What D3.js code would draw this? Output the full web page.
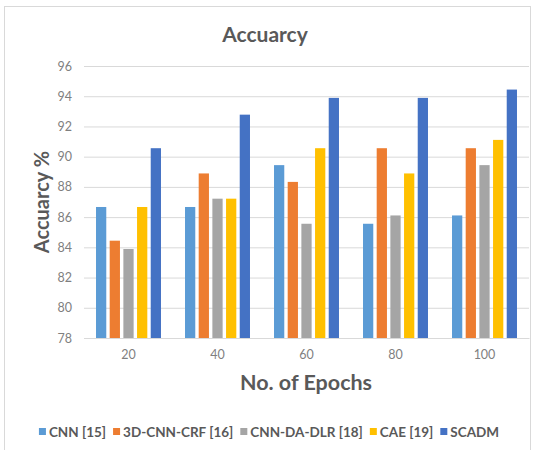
<!DOCTYPE html>
<html>
<head>
<meta charset="utf-8">
<script src="https://cdn.jsdelivr.net/npm/d3@7/dist/d3.min.js"></script>
<style>
  html, body { margin: 0; padding: 0; background: #ffffff; }
  svg { display: block; font-family: Lato, "Open Sans", sans-serif; }
</style>
</head>
<body>
<svg id="chart" width="540" height="450"></svg>
<script>
// Epoch groups on the x axis
const epochs = ["20", "40", "60", "80", "100"];

// Methods compared
const methods = ["CNN [15]", "3D-CNN-CRF [16]", "CNN-DA-DLR [18]", "CAE [19]", "SCADM"];

// Accuracy (%) per method, one value per epoch group
const cnn      = [86.67, 86.67, 89.44, 85.56, 86.11];
const cnn3dCrf = [84.44, 88.89, 88.33, 90.56, 90.56];
const cnnDaDlr = [83.89, 87.22, 85.56, 86.11, 89.44];
const cae      = [86.67, 87.22, 90.56, 88.89, 91.11];
const scadm    = [90.56, 92.78, 93.89, 93.89, 94.44];

// Y axis ticks
const yTicks = [78, 80, 82, 84, 86, 88, 90, 92, 94, 96];

const colors = ["#5B9BD5", "#ED7D31", "#A5A5A5", "#FFC000", "#4472C4"];

const seriesValues = [cnn, cnn3dCrf, cnnDaDlr, cae, scadm];
const rows = epochs.map((e, i) => ({
  epoch: e,
  values: methods.map((m, j) => ({ method: m, value: seriesValues[j][i], color: colors[j] }))
}));

const svg = d3.select("#chart");
const textColor = "#595959";
const tickColor = "#7f7f7f";
const gridColor = "#d9d9d9";

// Outer frame
svg.append("rect")
  .attr("x", 4.5).attr("y", 6.5)
  .attr("width", 526).attr("height", 460)
  .attr("fill", "none").attr("stroke", "#d9d9d9").attr("stroke-width", 1);

const plot = { left: 84, right: 529, top: 66, bottom: 338 };

const x0 = d3.scaleBand().domain(epochs)
  .range([plot.left, plot.right]).paddingInner(0.27).paddingOuter(0.135);
const x1 = d3.scaleBand().domain(methods)
  .range([0, x0.bandwidth()]).paddingInner(0.25);
const y = d3.scaleLinear().domain([78, 96]).range([plot.bottom, plot.top]);

// Gridlines and y tick labels
const yAxis = d3.axisLeft(y).tickValues(yTicks)
  .tickSize(-(plot.right - plot.left)).tickPadding(12).tickFormat(d3.format("d"));
const gy = svg.append("g").attr("transform", `translate(${plot.left},0)`).call(yAxis);
gy.select(".domain").remove();
gy.selectAll(".tick line").attr("stroke", gridColor).attr("stroke-width", 1);
gy.selectAll(".tick text").attr("fill", tickColor).attr("font-size", 12.5)
  .attr("font-family", "Lato, 'Open Sans', sans-serif");

// Bars
const groups = svg.append("g").selectAll("g").data(rows).join("g")
  .attr("transform", d => `translate(${x0(d.epoch)},0)`);
groups.selectAll("rect").data(d => d.values).join("rect")
  .attr("x", d => x1(d.method))
  .attr("y", d => y(d.value))
  .attr("width", x1.bandwidth())
  .attr("height", d => y(78) - y(d.value))
  .attr("fill", d => d.color);

// X axis labels
const xAxis = d3.axisBottom(x0).tickSize(0).tickPadding(12);
const gx = svg.append("g").attr("transform", `translate(0,${plot.bottom})`).call(xAxis);
gx.select(".domain").attr("stroke", gridColor);
gx.selectAll(".tick text").attr("fill", tickColor).attr("font-size", 12.5)
  .attr("font-family", "Lato, 'Open Sans', sans-serif");

// Title
svg.append("text").attr("x", 265).attr("y", 42)
  .attr("text-anchor", "middle").attr("font-size", 21).attr("font-weight", "bold")
  .attr("fill", textColor).text("Accuarcy");

// Axis titles
svg.append("text").attr("x", 306).attr("y", 390)
  .attr("text-anchor", "middle").attr("font-size", 21.5).attr("font-weight", "bold")
  .attr("fill", textColor).text("No. of Epochs");

svg.append("text")
  .attr("transform", "translate(49,202) rotate(-90)")
  .attr("text-anchor", "middle").attr("font-size", 20).attr("font-weight", "bold")
  .attr("fill", textColor).text("Accuarcy %");

// Legend
const legend = svg.append("g").attr("transform", "translate(0,432)");
const items = legend.selectAll("g").data(methods).join("g");
items.append("rect").attr("width", 7).attr("height", 7).attr("y", -4)
  .attr("fill", (d, i) => colors[i]);
items.append("text").attr("x", 10).attr("y", 0).attr("dy", "0.35em")
  .attr("font-size", 13.5).attr("font-weight", "bold").attr("fill", textColor)
  .text(d => d);
const widths = [];
items.each(function () {
  widths.push(this.getBBox().width);
});
const gap = 7;
const total = d3.sum(widths) + gap * (widths.length - 1);
let cursor = 269 - total / 2;
items.attr("transform", (d, i) => {
  const t = `translate(${cursor},0)`;
  cursor += widths[i] + gap;
  return t;
});
</script>
</body>
</html>
